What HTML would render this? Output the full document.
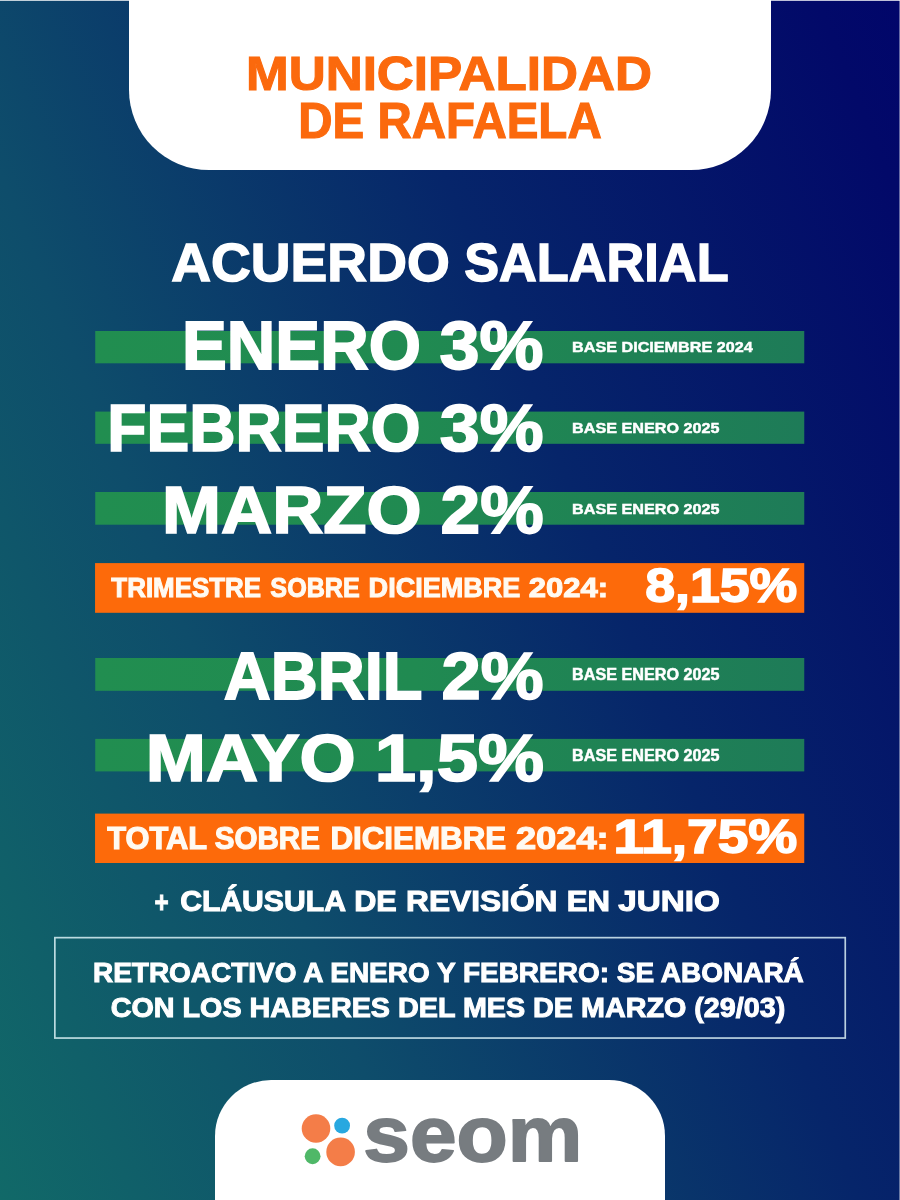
<!DOCTYPE html>
<html lang="es">
<head>
<meta charset="utf-8">
<title>Acuerdo Salarial - Municipalidad de Rafaela</title>
<style>
html,body{margin:0;padding:0;}
body{width:900px;height:1200px;overflow:hidden;background:#06256a;}
#card{position:relative;width:900px;height:1200px;overflow:hidden;background:linear-gradient(68deg, #116968 0%, #0e4d6b 30%, #06256a 62%, #020969 94%, #01066a 100%);font-family:'Liberation Sans', sans-serif;font-weight:700;}
.hdr{position:absolute;left:129px;top:0;width:642px;height:170px;background:#fff;border-radius:0 0 80px 80px;}
.ftr{position:absolute;left:214.7px;top:1080.3px;width:450px;height:130px;background:#fff;border-radius:56px 56px 0 0;}
.edge-t{position:absolute;left:0;top:0;width:900px;height:1px;background:rgba(255,255,255,.75);}
.edge-r{position:absolute;left:899px;top:0;width:1px;height:1200px;background:rgba(255,255,255,.4);}
svg{position:absolute;left:0;top:0;}
svg text{font-family:'Liberation Sans', sans-serif;font-weight:700;}
</style>
</head>
<body>
<div id="card">
<div class="hdr"></div>
<div class="ftr"></div>
<div class="edge-t"></div>
<div class="edge-r"></div>
<svg width="900" height="1200" viewBox="0 0 900 1200">
<defs>
<linearGradient id="gg" gradientUnits="userSpaceOnUse" x1="95.25" y1="0" x2="804.25" y2="0">
<stop offset="0" stop-color="#218e50"/><stop offset=".45" stop-color="#208a51"/><stop offset="1" stop-color="#1e7b58"/>
</linearGradient>
</defs>
<rect x="95.25" y="331" width="709.0" height="32.3" fill="url(#gg)"/>
<rect x="95.25" y="411.6" width="709.0" height="32.2" fill="url(#gg)"/>
<rect x="95.25" y="492" width="709.0" height="32.7" fill="url(#gg)"/>
<rect x="95.25" y="658" width="709.0" height="32.8" fill="url(#gg)"/>
<rect x="95.25" y="738.9" width="709.0" height="32.5" fill="url(#gg)"/>
<rect x="95.05" y="563.1" width="709.2" height="49.7" fill="#fd6a0a"/>
<rect x="95.05" y="813.6" width="709.2" height="49.4" fill="#fd6a0a"/>
<rect x="54.85" y="937.65" width="790.4" height="100.4" fill="none" stroke="#e2f6fa" stroke-opacity=".82" stroke-width="1.7"/>
<circle cx="316" cy="1128.5" r="14.3" fill="#f47d48"/>
<circle cx="342.1" cy="1125.7" r="7.9" fill="#28a8e0"/>
<circle cx="312.6" cy="1156.25" r="7.9" fill="#4fb868"/>
<circle cx="340.6" cy="1151.9" r="14.3" fill="#f47d48"/>
<text transform="translate(245.97 90.14) scale(1.0461 1)" font-size="48.97" fill="#fb690d" stroke="#fb690d" stroke-width="1.11">MUNICIPALIDAD</text>
<text transform="translate(298.23 138.34) scale(0.9646 1)" font-size="49.25" fill="#fb690d" stroke="#fb690d" stroke-width="1.12">DE RAFAELA</text>
<text transform="translate(171.25 281.0) scale(1.0246 1)" font-size="53.78" fill="#ffffff" stroke="#ffffff" stroke-width="1.4">ACUERDO</text>
<text transform="translate(464.13 281.0) scale(0.9729 1)" font-size="53.78" fill="#ffffff" stroke="#ffffff" stroke-width="1.4">SALARIAL</text>
<text transform="translate(182.08 368.92) scale(0.9907 1)" font-size="67.79" fill="#ffffff" stroke="#ffffff" stroke-width="1.76">ENERO</text>
<text transform="translate(439.44 368.92) scale(1.0604 1)" font-size="67.79" fill="#ffffff" stroke="#ffffff" stroke-width="1.76">3%</text>
<text transform="translate(572.11 352.15) scale(1.0394 1)" font-size="15.57" fill="#ffffff" stroke="#ffffff" stroke-width="0.49">BASE DICIEMBRE 2024</text>
<text transform="translate(107.29 451.02) scale(0.9493 1)" font-size="67.52" fill="#ffffff" stroke="#ffffff" stroke-width="1.75">FEBRERO</text>
<text transform="translate(439.74 451.02) scale(1.0627 1)" font-size="67.52" fill="#ffffff" stroke="#ffffff" stroke-width="1.75">3%</text>
<text transform="translate(572.11 433.15) scale(1.0391 1)" font-size="15.57" fill="#ffffff" stroke="#ffffff" stroke-width="0.49">BASE ENERO 2025</text>
<text transform="translate(162.02 533.02) scale(1.0491 1)" font-size="67.52" fill="#ffffff" stroke="#ffffff" stroke-width="1.75">MARZO</text>
<text transform="translate(440.43 533.02) scale(1.0576 1)" font-size="67.52" fill="#ffffff" stroke="#ffffff" stroke-width="1.75">2%</text>
<text transform="translate(572.11 513.86) scale(1.0391 1)" font-size="15.57" fill="#ffffff" stroke="#ffffff" stroke-width="0.49">BASE ENERO 2025</text>
<text transform="translate(111.36 597.28) scale(0.9548 1)" font-size="27.14" fill="#fffaf2" stroke="#fffaf2" stroke-width="1.03">TRIMESTRE</text>
<text transform="translate(270.36 597.28) scale(0.9267 1)" font-size="27.14" fill="#fffaf2" stroke="#fffaf2" stroke-width="1.03">SOBRE</text>
<text transform="translate(368.62 597.28) scale(0.9968 1)" font-size="27.14" fill="#fffaf2" stroke="#fffaf2" stroke-width="1.03">DICIEMBRE</text>
<text transform="translate(528.78 597.28) scale(1.143 1)" font-size="27.14" fill="#fffaf2" stroke="#fffaf2" stroke-width="1.03">2024:</text>
<text transform="translate(645.24 602.25) scale(1.1215 1)" font-size="47.82" fill="#ffffff" stroke="#ffffff" stroke-width="1.5">8,15%</text>
<text transform="translate(223.72 698.52) scale(0.9656 1)" font-size="67.37" fill="#ffffff" stroke="#ffffff" stroke-width="1.75">ABRIL</text>
<text transform="translate(441.45 698.52) scale(1.0492 1)" font-size="67.37" fill="#ffffff" stroke="#ffffff" stroke-width="1.75">2%</text>
<text transform="translate(572.11 679.75) scale(1.0295 1)" font-size="15.71" fill="#ffffff" stroke="#ffffff" stroke-width="0.49">BASE ENERO 2025</text>
<text transform="translate(145.82 780.83) scale(1.0738 1)" font-size="67.24" fill="#ffffff" stroke="#ffffff" stroke-width="1.74">MAYO</text>
<text transform="translate(374.71 780.83) scale(1.1046 1)" font-size="67.24" fill="#ffffff" stroke="#ffffff" stroke-width="1.74">1,5%</text>
<text transform="translate(572.11 760.65) scale(1.0295 1)" font-size="15.71" fill="#ffffff" stroke="#ffffff" stroke-width="0.49">BASE ENERO 2025</text>
<text transform="translate(107.18 849.11) scale(0.9899 1)" font-size="31.13" fill="#fffaf2" stroke="#fffaf2" stroke-width="1.18">TOTAL</text>
<text transform="translate(214.7 849.11) scale(0.9499 1)" font-size="31.13" fill="#fffaf2" stroke="#fffaf2" stroke-width="1.18">SOBRE</text>
<text transform="translate(330.4 849.11) scale(1.0069 1)" font-size="31.13" fill="#fffaf2" stroke="#fffaf2" stroke-width="1.18">DICIEMBRE</text>
<text transform="translate(515.9 849.11) scale(1.1661 1)" font-size="31.13" fill="#fffaf2" stroke="#fffaf2" stroke-width="1.18">2024:</text>
<text transform="translate(613.55 852.85) scale(1.1423 1)" font-size="48.24" fill="#ffffff" stroke="#ffffff" stroke-width="1.51">11,75%</text>
<text transform="translate(154.4 911.52) scale(0.8057 1)" font-size="30.16" fill="#ffffff" stroke="#ffffff" stroke-width="0.95">+</text>
<text transform="translate(180.13 911.47) scale(1.0056 1)" font-size="29.99" fill="#ffffff" stroke="#ffffff" stroke-width="1.07">CLÁUSULA</text>
<text transform="translate(354.19 911.47) scale(1.0221 1)" font-size="29.99" fill="#ffffff" stroke="#ffffff" stroke-width="1.07">DE</text>
<text transform="translate(406.12 911.47) scale(1.056 1)" font-size="29.99" fill="#ffffff" stroke="#ffffff" stroke-width="1.07">REVISIÓN</text>
<text transform="translate(566.65 911.47) scale(1.0386 1)" font-size="29.99" fill="#ffffff" stroke="#ffffff" stroke-width="1.07">EN</text>
<text transform="translate(618.17 911.47) scale(1.1101 1)" font-size="29.99" fill="#ffffff" stroke="#ffffff" stroke-width="1.07">JUNIO</text>
<text transform="translate(92.94 982.11) scale(1.0131 1)" font-size="27.63" fill="#ffffff" stroke="#ffffff" stroke-width="0.99">RETROACTIVO A ENERO Y FEBRERO: SE ABONARÁ</text>
<text transform="translate(110.74 1016.51) scale(1.0499 1)" font-size="27.36" fill="#ffffff" stroke="#ffffff" stroke-width="0.98">CON LOS HABERES DEL MES DE MARZO (29/03)</text>
<text transform="translate(363.33 1161.32) scale(1.0875 1)" font-size="77.09" fill="#777c80" stroke="#777c80" stroke-width="1.77" stroke-linejoin="round">seom</text>
</svg>
</div>
</body>
</html>
